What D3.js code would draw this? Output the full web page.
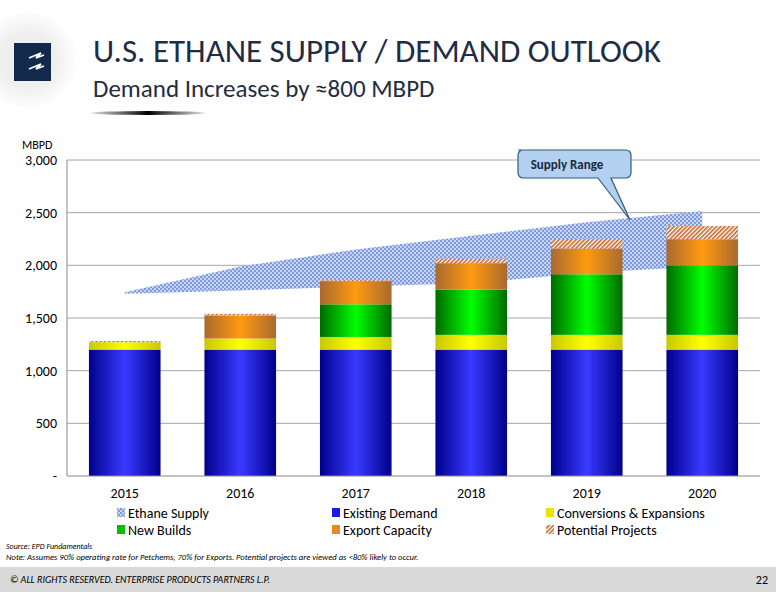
<!DOCTYPE html>
<html><head><meta charset="utf-8">
<script src="https://cdn.jsdelivr.net/npm/d3@7"></script>
<style>body{margin:0;background:#fff}svg{font-family:Carlito,Lato,"Open Sans",sans-serif}</style>
</head><body><svg id="c" width="776" height="600"></svg>
<script>
const years = ["2015", "2016", "2017", "2018", "2019", "2020"];
const existingDemand = [1200, 1200, 1200, 1200, 1200, 1200];
const conversions = [70, 105, 120, 140, 140, 140];
const newBuilds = [0, 0, 310, 430, 575, 660];
const exportCapacity = [0, 220, 220, 250, 245, 248];
const potentialProjects = [12, 15, 8, 42, 90, 126];
const supplyLow = [1730, 1760, 1800, 1830, 1930, 1990];
const supplyHigh = [1745, 1990, 2150, 2280, 2410, 2516];
const yTicks = [0, 500, 1000, 1500, 2000, 2500, 3000];

const svg = d3.select("#c");
const defs = svg.append("defs");

// logo area
const lg = defs.append("radialGradient").attr("id", "lg");
lg.append("stop").attr("offset", "0.55").attr("stop-color", "#efefef");
lg.append("stop").attr("offset", "1").attr("stop-color", "#fff");
svg.append("circle").attr("cx", 28).attr("cy", 60).attr("r", 50).attr("fill", "url(#lg)");
svg.append("rect").attr("x", 14).attr("y", 43).attr("width", 37).attr("height", 38).attr("fill", "#13294b");
svg.append("path").attr("d", "M29 58 l12 -5 l-5 5 l8 -3 M29 69 l12 -5 l-5 5 l8 -3")
  .attr("stroke", "#fff").attr("stroke-width", 1.8).attr("fill", "none");

svg.append("text").attr("x", 93).attr("y", 62).attr("font-size", 33).attr("fill", "#1f2d44").text("U.S. ETHANE SUPPLY / DEMAND OUTLOOK");
svg.append("text").attr("x", 93).attr("y", 97).attr("font-size", 25).attr("fill", "#1f2d44").text("Demand Increases by \u2248800 MBPD");
const sw = defs.append("linearGradient").attr("id", "sw");
sw.append("stop").attr("offset", 0).attr("stop-color", "#000").attr("stop-opacity", 0.1);
sw.append("stop").attr("offset", 0.5).attr("stop-color", "#000");
sw.append("stop").attr("offset", 1).attr("stop-color", "#000").attr("stop-opacity", 0.1);
svg.append("ellipse").attr("cx", 148).attr("cy", 113).attr("rx", 58).attr("ry", 2).attr("fill", "url(#sw)");

// chart
const margin = { left: 67, right: 760, top: 160, bottom: 476 };
const x = d3.scaleBand().domain(years).range([margin.left, margin.right]).paddingInner(0.38).paddingOuter(0.19);
const y = d3.scaleLinear().domain([0, 3000]).range([margin.bottom, margin.top]);

function barGrad(id, dark, light) {
  const g = defs.append("linearGradient").attr("id", id);
  g.append("stop").attr("offset", 0).attr("stop-color", dark);
  g.append("stop").attr("offset", 0.5).attr("stop-color", light);
  g.append("stop").attr("offset", 1).attr("stop-color", dark);
}
barGrad("gBlue", "#00008c", "#3a3aff");
barGrad("gYel", "#c8c800", "#ffff00");
barGrad("gGrn", "#006a00", "#00ff00");
barGrad("gOrg", "#a86a30", "#ff9a10");

const pS = defs.append("pattern").attr("id", "pS").attr("width", 4).attr("height", 4).attr("patternUnits", "userSpaceOnUse");
pS.append("rect").attr("width", 4).attr("height", 4).attr("fill", "#c9d5f5");
pS.append("rect").attr("width", 2).attr("height", 2).attr("fill", "#7f9be0");
pS.append("rect").attr("x", 2).attr("y", 2).attr("width", 2).attr("height", 2).attr("fill", "#7f9be0");
const pP = defs.append("pattern").attr("id", "pP").attr("width", 3).attr("height", 3).attr("patternUnits", "userSpaceOnUse").attr("patternTransform", "rotate(45)");
pP.append("rect").attr("width", 3).attr("height", 3).attr("fill", "#fff");
pP.append("rect").attr("width", 1.6).attr("height", 3).attr("fill", "#c8642a");

svg.append("g").selectAll("line").data(yTicks.slice(1)).join("line")
  .attr("x1", margin.left).attr("x2", margin.right).attr("y1", d => y(d)).attr("y2", d => y(d))
  .attr("stroke", "#a6a6a6");

// supply band
const cx = d => x(d) + x.bandwidth() / 2;
const area = d3.area().x((d, i) => cx(years[i])).y0((d, i) => y(supplyLow[i])).y1(d => y(d));
svg.append("path").datum(supplyHigh).attr("d", area).attr("fill", "url(#pS)");

// stacked bars
const series = [
  { vals: existingDemand, fill: "url(#gBlue)" },
  { vals: conversions, fill: "url(#gYel)" },
  { vals: newBuilds, fill: "url(#gGrn)" },
  { vals: exportCapacity, fill: "url(#gOrg)" },
  { vals: potentialProjects, fill: "url(#pP)" }
];
const bars = svg.append("g");
years.forEach((yr, i) => {
  let base = 0;
  series.forEach(s => {
    const v = s.vals[i];
    if (v > 0) bars.append("rect").attr("x", x(yr)).attr("width", x.bandwidth())
      .attr("y", y(base + v)).attr("height", y(base) - y(base + v)).attr("fill", s.fill);
    base += v;
  });
});

// axes
svg.append("line").attr("x1", margin.left).attr("x2", margin.left).attr("y1", margin.top).attr("y2", margin.bottom).attr("stroke", "#888");
svg.append("line").attr("x1", margin.left).attr("x2", margin.right).attr("y1", margin.bottom).attr("y2", margin.bottom).attr("stroke", "#888");
svg.append("g").selectAll("text").data(yTicks).join("text")
  .attr("x", 57).attr("y", d => y(d) + 5).attr("text-anchor", "end").attr("font-size", 14)
  .text(d => d === 0 ? "-" : d3.format(",")(d));
svg.append("text").attr("x", 22).attr("y", 149).attr("font-size", 12).text("MBPD");
svg.append("g").selectAll("text").data(years).join("text")
  .attr("x", d => cx(d)).attr("y", 498).attr("text-anchor", "middle").attr("font-size", 14).text(d => d);

// callout
svg.append("path").attr("d", "M518 150 h108 a5 5 0 0 1 5 5 v18 a5 5 0 0 1 -5 5 h-15 l19 42 l-32 -42 h-75 a5 5 0 0 1 -5 -5 v-18 a5 5 0 0 1 5 -5 z")
  .attr("fill", "#b4d0f0").attr("stroke", "#2d5f7d").attr("stroke-width", 1.2);
svg.append("text").attr("x", 567).attr("y", 169).attr("text-anchor", "middle").attr("font-size", 13).attr("font-weight", "bold").attr("fill", "#1a2a40").text("Supply Range");

// legend
const legend = [
  { n: "Ethane Supply", f: "url(#pS)", x: 117, y: 518 },
  { n: "Existing Demand", f: "#1a1ae6", x: 332, y: 518 },
  { n: "Conversions & Expansions", f: "#e6e600", x: 546, y: 518 },
  { n: "New Builds", f: "#00c000", x: 117, y: 535 },
  { n: "Export Capacity", f: "#e88a20", x: 332, y: 535 },
  { n: "Potential Projects", f: "url(#pP)", x: 546, y: 535 }
];
const lgG = svg.append("g").selectAll("g").data(legend).join("g");
lgG.append("rect").attr("x", d => d.x).attr("y", d => d.y - 10).attr("width", 8).attr("height", 9).attr("fill", d => d.f);
lgG.append("text").attr("x", d => d.x + 11).attr("y", d => d.y).attr("font-size", 14).text(d => d.n);

svg.append("text").attr("x", 6).attr("y", 549).attr("font-size", 8).attr("font-style", "italic").text("Source:  EPD Fundamentals");
svg.append("text").attr("x", 6).attr("y", 560).attr("font-size", 8.6).attr("font-style", "italic").text("Note:  Assumes 90% operating rate for Petchems, 70% for Exports.  Potential projects are viewed as <80% likely to occur.");
svg.append("rect").attr("x", 0).attr("y", 567).attr("width", 776).attr("height", 25).attr("fill", "#d9d9d9");
svg.append("text").attr("x", 10).attr("y", 583).attr("font-size", 10).attr("font-style", "italic").text("\u00a9 ALL RIGHTS RESERVED. ENTERPRISE PRODUCTS PARTNERS L.P.");
svg.append("text").attr("x", 768).attr("y", 584).attr("text-anchor", "end").attr("font-size", 12).text("22");
</script></body></html>
